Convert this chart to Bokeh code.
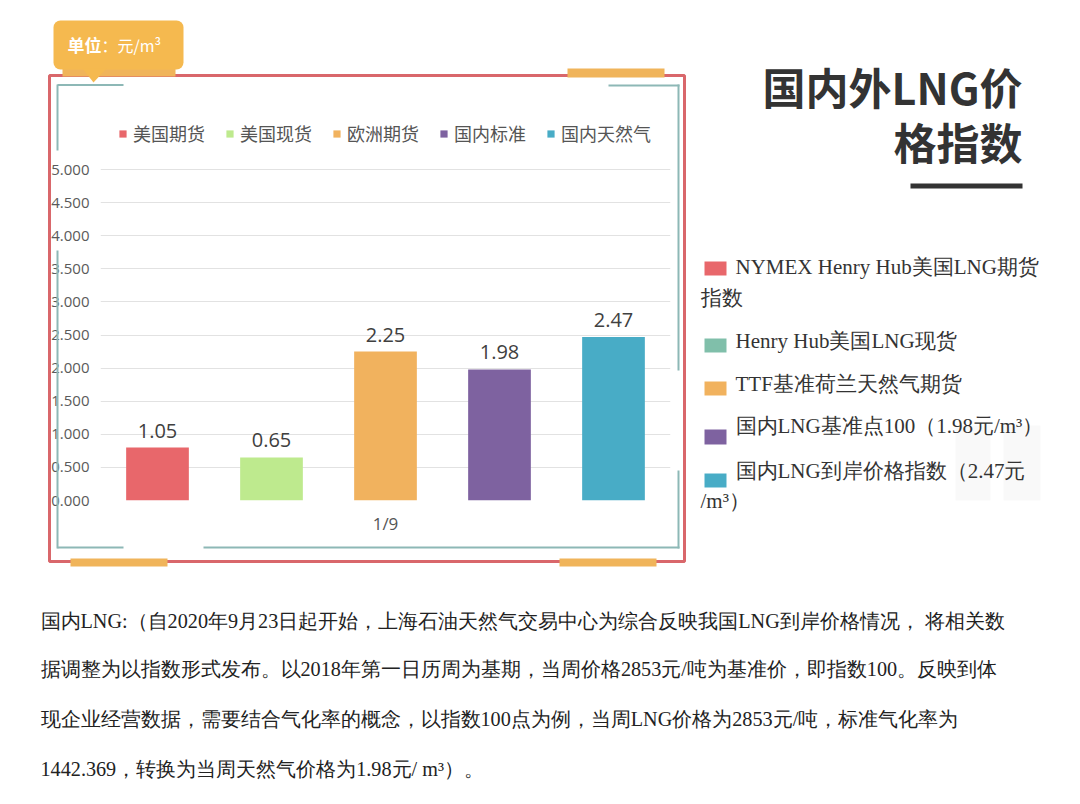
from bokeh.plotting import figure
from bokeh.models import (Range1d, Legend, LegendItem, FixedTicker, NumeralTickFormatter,
                          ColumnDataSource)
from bokeh.core.properties import value
from bokeh.embed import file_html
from bokeh.resources import INLINE

# ---------------- data ----------------
date = "1/9"
series = ["美国期货", "美国现货", "欧洲期货", "国内标准", "国内天然气"]
bar_values = [0.80, 0.65, 2.25, 1.98, 2.47]          # bar heights as drawn
bar_labels = ["1.05", "0.65", "2.25", "1.98", "2.47"]  # printed value labels
bar_colors = ["#E8676B", "#BEEA8E", "#F1B25E", "#7E62A0", "#48ACC6"]
y_ticks = [0.0, 0.5, 1.0, 1.5, 2.0, 2.5, 3.0, 3.5, 4.0, 4.5, 5.0]

unit_bold = "单位"
unit_rest = "：元/m³"
title_lines = ["国内外LNG价", "格指数"]

side_labels = [
    ["NYMEX Henry Hub美国LNG期货", "指数"],
    ["Henry Hub美国LNG现货"],
    ["TTF基准荷兰天然气期货"],
    ["国内LNG基准点100（1.98元/m³）"],
    ["国内LNG到岸价格指数（2.47元", "/m³）"],
]
side_colors = ["#E8676B", "#80BFAA", "#F1B25E", "#7E62A0", "#48ACC6"]

note_lines = [
    "国内LNG:（自2020年9月23日起开始，上海石油天然气交易中心为综合反映我国LNG到岸价格情况， 将相关数",
    "据调整为以指数形式发布。以2018年第一日历周为基期，当周价格2853元/吨为基准价，即指数100。反映到体",
    "现企业经营数据，需要结合气化率的概念，以指数100点为例，当周LNG价格为2853元/吨，标准气化率为",
    "1442.369，转换为当周天然气价格为1.98元/ m³）。",
]

# ---------------- layout ----------------
W, H = 1064, 788
OFF = 0  # image coords -> canvas coords
FL, FR, FB = 100 - OFF, 670 - OFF, 500 - OFF
Y5 = 169 - OFF            # where the 5.000 gridline sits
FT = 108 - OFF            # frame top (room for the legend inside the frame)
y_top = y_ticks[-1] * (FB - FT) / (FB - Y5)

n = len(series)
slots = [i + 0.5 for i in range(n)]
p = figure(width=W, height=H, output_backend="svg", toolbar_location=None,
           x_range=Range1d(0, n), y_range=Range1d(0, y_top),
           min_border_left=FL, min_border_right=W - FR,
           min_border_top=FT, min_border_bottom=H - FB)
p.outline_line_color = None
p.background_fill_color = "white"
p.border_fill_color = "white"

# pixel ranges for decorations (canvas px, y downward)
p.extra_x_ranges = {"px": Range1d(FL, FR)}
p.extra_y_ranges = {"py": Range1d(FB, FT)}

# axes
p.yaxis.ticker = FixedTicker(ticks=y_ticks)
p.yaxis.formatter = NumeralTickFormatter(format="0.000")
p.yaxis.axis_line_color = None
p.yaxis.major_tick_line_color = None
p.yaxis.minor_tick_line_color = None
p.yaxis.major_tick_out = 0
p.yaxis.major_label_standoff = 11
p.yaxis.major_label_text_font = "Open Sans"
p.yaxis.major_label_text_font_size = "15px"
p.yaxis.major_label_text_color = "#5a5a5a"

p.ygrid.ticker = FixedTicker(ticks=y_ticks)
p.ygrid.grid_line_color = "#e2e2e2"
p.xgrid.grid_line_color = None

date_pos = n / 2
p.xaxis.ticker = FixedTicker(ticks=[date_pos])
p.xaxis.major_label_overrides = {date_pos: date}
p.xaxis.axis_line_color = None
p.xaxis.major_tick_line_color = None
p.xaxis.minor_tick_line_color = None
p.xaxis.major_tick_out = 0
p.xaxis.major_label_standoff = 11
p.xaxis.major_label_text_font = "Open Sans"
p.xaxis.major_label_text_font_size = "17px"
p.xaxis.major_label_text_color = "#555555"

src = ColumnDataSource(dict(x=slots, top=bar_values, label=bar_labels,
                            color=bar_colors, name=series))
bars = p.vbar(x="x", top="top", width=0.55, fill_color="color", line_color=None, source=src)
p.text(x="x", y="top", text="label", source=src, text_align="center",
       text_baseline="alphabetic", y_offset=-17, text_font=value("Open Sans"),
       text_font_size="20px", text_color="#404040")

legend = Legend(items=[LegendItem(label=s, renderers=[bars], index=i) for i, s in enumerate(series)],
                orientation="horizontal", location=(18, FB - 146), padding=5,
                glyph_width=9, glyph_height=9, label_height=20, label_standoff=6, spacing=20,
                label_text_font="Noto Sans CJK SC", label_text_font_size="18px",
                label_text_color="#555555", border_line_color=None,
                background_fill_alpha=0)
p.add_layout(legend, "center")

# ---------------- decorations (image pixel coordinates, unclipped overlay glyphs) ----------------
DEC = dict(x_range_name="px", y_range_name="py", level="overlay")


def box(l, t, r, b, color, radius=0):
    kw = dict(border_radius=radius) if radius else {}
    p.quad(left=[l - OFF], right=[r - OFF], top=[t - OFF], bottom=[b - OFF],
           fill_color=color, line_color=None, **kw, **DEC)


def frame_box(l, t, r, b, color, width):
    p.quad(left=[l - OFF], right=[r - OFF], top=[t - OFF], bottom=[b - OFF],
           fill_color=None, line_color=color, line_width=width, **DEC)


def label(x, y, text, size, color, font, style="normal", align="left"):
    p.text(x=[x - OFF], y=[y - OFF], text=[text], text_font=value(font),
           text_font_size=value(size), text_color=color, text_font_style=value(style),
           text_align=value(align), text_baseline=value("middle"), **DEC)


# faint watermark behind the side legend
box(955, 425, 990, 500, "#F9F9F9")
box(1003, 425, 1040, 500, "#F9F9F9")

TEAL = "#8DB8B6"
# inner teal frame pieces
box(57, 83.5, 123, 85.5, TEAL)
box(608, 84, 679, 86, TEAL)
box(56, 84, 58, 150, TEAL)
box(56, 250, 58, 548, TEAL)
box(677, 84, 679, 370, TEAL)
box(677, 470, 679, 548, TEAL)
box(57, 546, 123, 548, TEAL)
box(203, 546, 679, 548, TEAL)

# outer red frame
frame_box(49, 75, 684, 561, "#D9676B", 3)

# orange tabs
ORANGE = "#F0B45A"
box(62, 68, 175, 76, ORANGE)
box(567, 68, 664, 77, ORANGE)
box(70, 558, 167, 566, ORANGE)
box(559, 558, 656, 566, ORANGE)

# unit bubble
box(53, 20, 183, 69, "#F5B94F", radius=7)
p.patch(x=[82 - OFF, 106 - OFF, 93 - OFF], y=[68 - OFF, 68 - OFF, 82 - OFF],
        fill_color="#F5B94F", line_color=None, **DEC)
label(67, 44, unit_bold, "17px", "white", "Noto Sans CJK SC", style="bold")
label(101, 44, unit_rest, "16px", "white", "Noto Sans CJK SC")

# title
label(1022, 85, title_lines[0], "43px", "#333333", "Noto Sans CJK SC", style="bold", align="right")
label(1022, 140, title_lines[1], "43px", "#333333", "Noto Sans CJK SC", style="bold", align="right")
box(910, 183, 1022, 188, "#333333")

# side legend
side_boxes = [(261, 275), (338, 352), (381, 395), (429, 444), (473, 487)]
side_text_y = [(266, 297), (340,), (383,), (425,), (470, 500)]
SERIF = "Liberation Serif"
for lines, col, (bt, bb), ys in zip(side_labels, side_colors, side_boxes, side_text_y):
    box(704, bt, 726, bb, col)
    label(735, ys[0], lines[0], "21px", "#333333", SERIF)
    if len(lines) > 1:
        label(700, ys[1], lines[1], "21px", "#333333", SERIF)

# bottom note
for line, y in zip(note_lines, [620, 668, 718, 768]):
    label(40, y, line, "20.2px", "#222222", SERIF)

open("out.html", "w").write(file_html(p, INLINE))
